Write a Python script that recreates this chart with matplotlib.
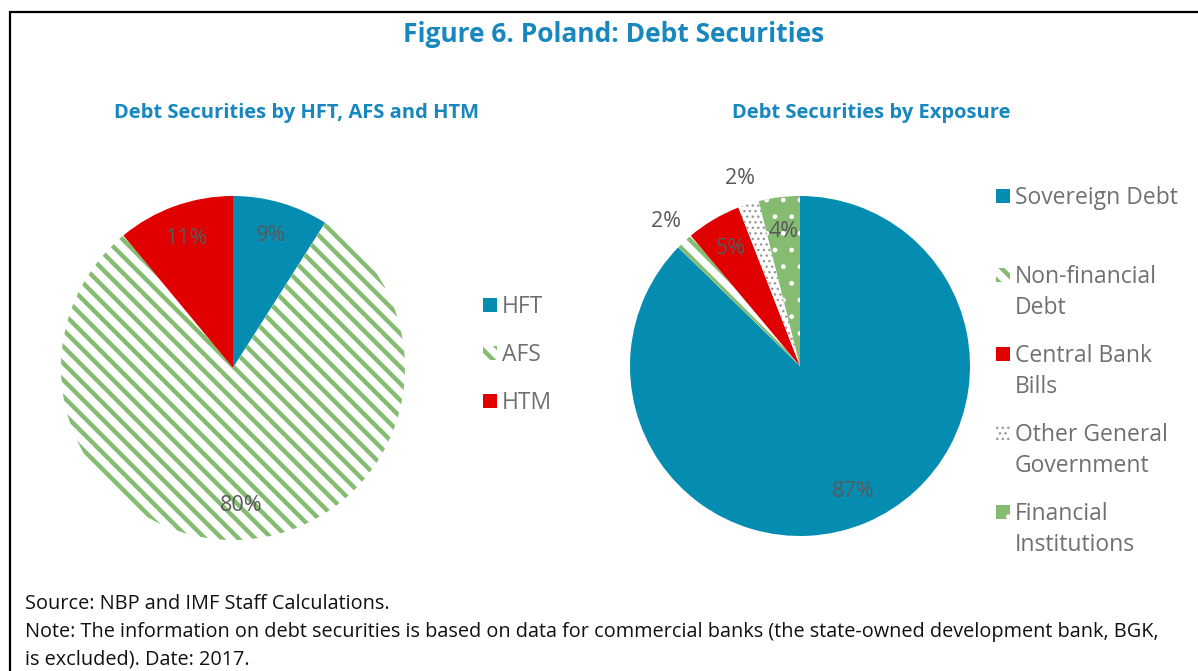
import matplotlib
matplotlib.use('Agg')
import matplotlib.pyplot as plt
from matplotlib.patches import Rectangle

plt.rcParams['font.family'] = ['Open Sans', 'DejaVu Sans']
plt.rcParams['hatch.linewidth'] = 3.0

# ---- data ----
type_labels = ['HFT', 'AFS', 'HTM']
type_shares = [9, 80, 11]

exp_labels = ['Sovereign Debt', 'Non-financial\nDebt', 'Central Bank\nBills',
              'Other General\nGovernment', 'Financial\nInstitutions']
exp_shares = [87.3, 1.6, 5.2, 2.0, 3.9]

title = 'Figure 6. Poland: Debt Securities'
sub_left = 'Debt Securities by HFT, AFS and HTM'
sub_right = 'Debt Securities by Exposure'
notes = ['Source: NBP and IMF Staff Calculations.',
         'Note: The information on debt securities is based on data for commercial banks (the state-owned development bank, BGK,',
         'is excluded). Date: 2017.']

# ---- styles ----
blue = '#058db1'
red = '#e00000'
green = '#86bc72'
head = '#1787be'
grey = '#595959'
legend_grey = '#707070'

type_style = [dict(facecolor=blue, edgecolor=blue, hatch=None, hlw=1),
              dict(facecolor='white', edgecolor=green, hatch='\\\\', hlw=3.2),
              dict(facecolor=red, edgecolor=red, hatch=None, hlw=1)]
exp_style = [dict(facecolor=blue, edgecolor=blue, hatch=None, hlw=1),
             dict(facecolor='white', edgecolor=green, hatch='\\\\', hlw=3.2),
             dict(facecolor=red, edgecolor=red, hatch=None, hlw=1),
             dict(facecolor='white', edgecolor='#999999', hatch='...', hlw=1.0),
             dict(facecolor=green, edgecolor='white', hatch='.', hlw=1.0)]

W, H = 1198, 671
fig = plt.figure(figsize=(W / 100, H / 100), dpi=100)


def style_patch(p, st):
    p.set_facecolor(st['facecolor'])
    p.set_edgecolor(st['edgecolor'])
    p.set_linewidth(0)
    if st['hatch']:
        p.set_hatch(st['hatch'])
        if hasattr(p, 'set_hatch_linewidth'):
            p.set_hatch_linewidth(st['hlw'])


def px_axes(cx, cy, r):
    return fig.add_axes([(cx - r) / W, (H - cy - r) / H, 2 * r / W, 2 * r / H])


def draw_pie(ax, shares, styles, pctdist, outside=()):
    wedges, texts, autotexts = ax.pie(shares, startangle=90, counterclock=False,
                                      autopct='%.0f%%', pctdistance=pctdist,
                                      radius=1, textprops=dict(color=grey, fontsize=15.5))
    for w, st in zip(wedges, styles):
        style_patch(w, st)
    for i in outside:
        x, y = autotexts[i].get_position()
        autotexts[i].set_position((x / pctdist * 1.16, y / pctdist * 1.16))
    ax.set_xlim(-1, 1)
    ax.set_ylim(-1, 1)
    ax.axis('off')
    return wedges


ax1 = px_axes(233, 368, 172)
draw_pie(ax1, type_shares, type_style, 0.8)

ax2 = px_axes(800, 366, 170)
draw_pie(ax2, exp_shares, exp_style, 0.8, outside=(1, 3))


def draw_legend(labels, styles, x, y0, step):
    for i, (lab, st) in enumerate(zip(labels, styles)):
        y = y0 + i * step
        r = Rectangle((x / W, (H - y - 7) / H), 14 / W, 14 / H, transform=fig.transFigure)
        style_patch(r, st)
        fig.patches.append(r)
        fig.text((x + 19) / W, (H - y + 10) / H, lab, fontsize=16.5, color=legend_grey,
                 va='top', ha='left', linespacing=1.38)


draw_legend(type_labels, type_style, 483, 305, 48)
draw_legend(exp_labels, exp_style, 996, 196, 79)

# titles
fig.text(614 / W, 1 - 34 / H, title, ha='center', va='center', fontsize=19,
         fontweight='bold', color=head)
fig.text(297 / W, 1 - 113 / H, sub_left, ha='center', va='center', fontsize=14.5,
         fontweight='bold', color=head)
fig.text(871 / W, 1 - 113 / H, sub_right, ha='center', va='center', fontsize=14.5,
         fontweight='bold', color=head)

for i, line in enumerate(notes):
    fig.text(25 / W, 1 - (604 + 28 * i) / H, line, ha='left', va='center',
             fontsize=14.3, color='#111111')

# outer frame (runs off the right and bottom edge)
fig.patches.append(Rectangle((10 / W, -0.05), 1.1, 1 - 12 / H + 0.05, transform=fig.transFigure,
                             fill=False, edgecolor='black', linewidth=1.6))

fig.savefig('out.png', dpi=100)
